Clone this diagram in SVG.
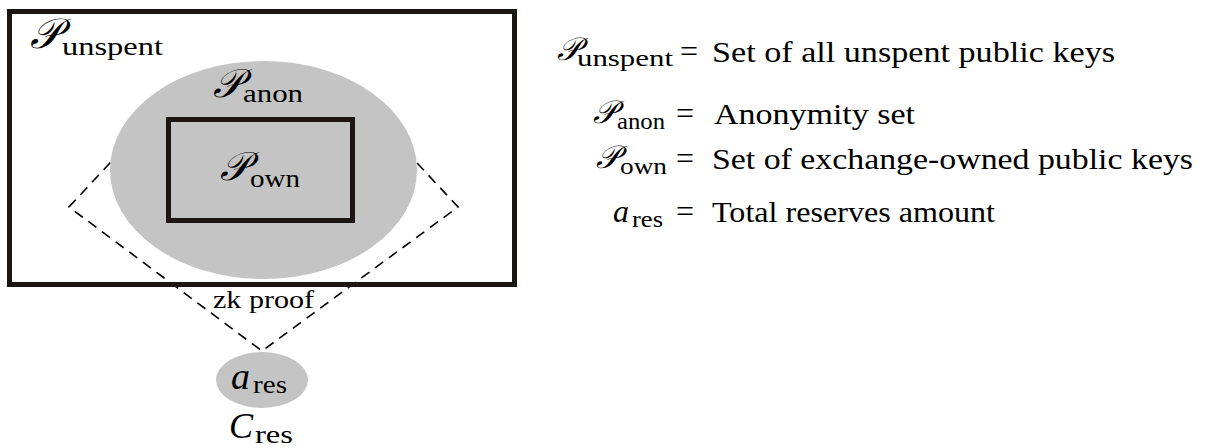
<svg xmlns="http://www.w3.org/2000/svg" width="1218" height="448" viewBox="0 0 1218 448">
<style>
.t{fill:#000}
.it{font-style:italic}
.box{fill:none;stroke:#1c1513;stroke-width:5}
.blob{fill:#c4c4c4}
.dash{fill:none;stroke:#000;stroke-width:1.6;stroke-dasharray:10 7}
</style>
<rect width="1218" height="448" fill="#fff"/>
<g id="connectors">
<path class="dash" d="M 122 150 L 69 207 L 262 351 L 458 207 L 405 150"/>
</g>
<g font-family="'Liberation Serif', 'Times New Roman', serif">
<g id="anon">
<ellipse class="blob" cx="263.5" cy="170" rx="153.5" ry="109"/>
<text class="t it" x="213" y="97" font-size="40">𝒫</text>
<text class="t" x="243" y="102" font-size="26" textLength="60" lengthAdjust="spacingAndGlyphs">anon</text>
</g>
<g id="own">
<rect class="box" x="168.5" y="119.5" width="184" height="101"/>
<text class="t it" x="220" y="180" font-size="40">𝒫</text>
<text class="t" x="250" y="187" font-size="26" textLength="50" lengthAdjust="spacingAndGlyphs">own</text>
</g>
<g id="unspent">
<rect class="box" x="9.5" y="11.5" width="505" height="273"/>
<text class="t it" x="30" y="48" font-size="42">𝒫</text>
<text class="t" x="62" y="55" font-size="26" textLength="101" lengthAdjust="spacingAndGlyphs">unspent</text>
</g>
<g id="label">
<text class="t" x="213" y="308" font-size="26" textLength="101" lengthAdjust="spacingAndGlyphs">zk proof</text>
</g>
<g id="ares">
<ellipse class="blob" cx="262" cy="380" rx="46" ry="28"/>
<text class="t it" x="231" y="389" font-size="38">a</text>
<text class="t" x="253" y="393" font-size="25" textLength="34" lengthAdjust="spacingAndGlyphs">res</text>
<text class="t it" x="229" y="438" font-size="36">C</text>
<text class="t" x="255" y="443" font-size="25" textLength="38" lengthAdjust="spacingAndGlyphs">res</text>
</g>
<g id="legend">
<text class="t it" x="557" y="60" font-size="32">𝒫</text>
<text class="t" x="577" y="66" font-size="24" textLength="96" lengthAdjust="spacingAndGlyphs">unspent</text>
<text class="t" x="689" y="62" font-size="32" text-anchor="middle">=</text>
<text class="t" x="712" y="62" font-size="30" textLength="403" lengthAdjust="spacingAndGlyphs">Set of all unspent public keys</text>

<text class="t it" x="593" y="123" font-size="32">𝒫</text>
<text class="t" x="617" y="129" font-size="24" textLength="48" lengthAdjust="spacingAndGlyphs">anon</text>
<text class="t" x="685" y="124" font-size="32" text-anchor="middle">=</text>
<text class="t" x="714" y="124" font-size="30" textLength="201" lengthAdjust="spacingAndGlyphs">Anonymity set</text>

<text class="t it" x="596" y="168" font-size="32">𝒫</text>
<text class="t" x="620" y="174" font-size="24" textLength="47" lengthAdjust="spacingAndGlyphs">own</text>
<text class="t" x="685" y="169" font-size="32" text-anchor="middle">=</text>
<text class="t" x="712" y="169" font-size="30" textLength="481" lengthAdjust="spacingAndGlyphs">Set of exchange-owned public keys</text>

<text class="t it" x="613" y="222" font-size="32">a</text>
<text class="t" x="632" y="227" font-size="24" textLength="31" lengthAdjust="spacingAndGlyphs">res</text>
<text class="t" x="685" y="222" font-size="32" text-anchor="middle">=</text>
<text class="t" x="712" y="222" font-size="30" textLength="283" lengthAdjust="spacingAndGlyphs">Total reserves amount</text>
</g>
</g>
</svg>
